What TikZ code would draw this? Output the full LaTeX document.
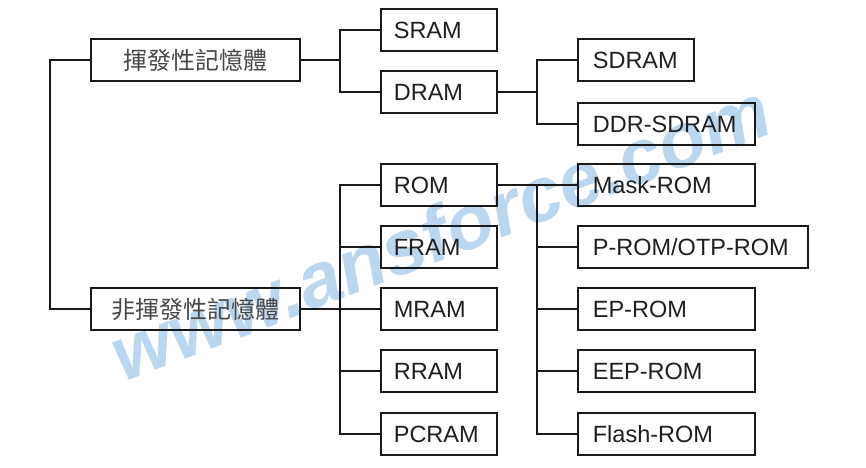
\documentclass[tikz,border=0pt]{standalone}
\usepackage{fontspec}
\setmainfont{Liberation Sans}
\newfontfamily\cjk{Noto Sans CJK TC}
\definecolor{wmc}{RGB}{120,175,225}
\begin{document}
\begin{tikzpicture}[x=1pt,y=-1pt,
  lnk/.style={line width=1.7pt, black!90},
  box/.style={draw=black!90, line width=1.7pt, anchor=west, minimum height=42pt,
    inner xsep=13pt, inner ysep=0pt, align=left, font=\fontsize{23.5}{28}\selectfont, text=black!88},
  leaf/.style={box, inner xsep=15pt},
  cbox/.style={draw=black!90, line width=1.7pt, anchor=west, minimum height=42pt, minimum width=209pt,
    inner sep=0pt, font=\cjk\fontsize{24}{28}\selectfont, text=black!72},
  wm/.style={font=\fontsize{77}{80}\selectfont\bfseries\itshape, text=wmc, opacity=0.5}
]
\useasboundingbox (0,0) rectangle (866,467);
\fill[white] (0,0) rectangle (866,467);
\node[wm, rotate=21] (wmark) at (440,232) {www.ansforce.com};

\node[cbox] (vol) at (90,60) {揮發性記憶體};
\node[cbox] (nonvol) at (90,309) {非揮發性記憶體};

\node[box, text width=90pt] (sram) at (380,30) {SRAM};
\node[box, text width=90pt] (dram) at (380,92) {DRAM};
\node[leaf, text width=86pt] (sdram) at (577,60) {SDRAM};
\node[leaf, text width=147pt] (ddr) at (577,124) {DDR-SDRAM};

\node[box, text width=90pt] (rom) at (380,185) {ROM};
\node[box, text width=90pt] (fram) at (380,247) {FRAM};
\node[box, text width=90pt] (mram) at (380,309) {MRAM};
\node[box, text width=90pt] (rram) at (380,371) {RRAM};
\node[box, text width=90pt] (pcram) at (380,434) {PCRAM};

\node[leaf, text width=147pt] (mask) at (577,185) {Mask-ROM};
\node[leaf, text width=200pt] (prom) at (577,247) {P-ROM/OTP-ROM};
\node[leaf, text width=147pt] (ep) at (577,309) {EP-ROM};
\node[leaf, text width=147pt] (eep) at (577,371) {EEP-ROM};
\node[leaf, text width=147pt] (flash) at (577,434) {Flash-ROM};

\coordinate (j0) at (50,60);
\coordinate (j1) at (340,60);
\coordinate (j2) at (340,309);
\coordinate (j3) at (537,185);
\coordinate (j4) at (537,92);

\draw[lnk] (vol.west) -- (j0) |- (nonvol.west);
\draw[lnk] (vol.east) -- (j1);
\draw[lnk] (sram.west) -| (j1) |- (dram.west);
\draw[lnk] (dram.east) -- (j4);
\draw[lnk] (sdram.west) -| (j4) |- (ddr.west);

\draw[lnk] (nonvol.east) -- (mram.west);
\draw[lnk] (rom.west) -| (j2) |- (pcram.west);
\draw[lnk] (fram.west) -- (fram.west -| j2);
\draw[lnk] (rram.west) -- (rram.west -| j2);

\draw[lnk] (rom.east) -- (mask.west);
\draw[lnk] (j3) |- (flash.west);
\draw[lnk] (prom.west) -- (prom.west -| j3);
\draw[lnk] (ep.west) -- (ep.west -| j3);
\draw[lnk] (eep.west) -- (eep.west -| j3);
\end{tikzpicture}
\end{document}
